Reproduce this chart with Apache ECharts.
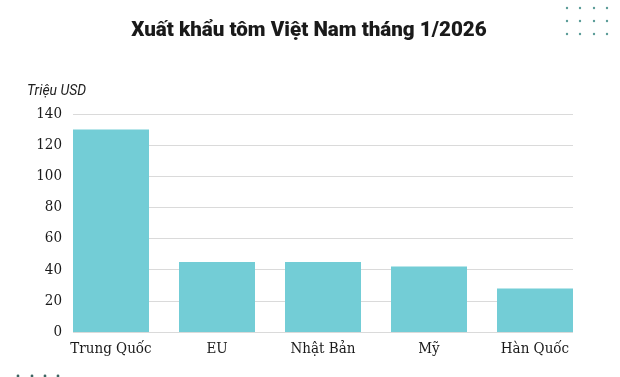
<!DOCTYPE html>
<html><head><meta charset="utf-8">
<script src="https://cdn.jsdelivr.net/npm/echarts@6/dist/echarts.min.js"></script>
<style>html,body{margin:0;padding:0;background:#fff}#c{width:620px;height:377px}</style>
</head><body><div id="c"></div>
<script>
const categories = ['Trung Quốc', 'EU', 'Nhật Bản', 'Mỹ', 'Hàn Quốc'];
const values = [130, 45, 45, 42, 28];
const yTicks = [0, 20, 40, 60, 80, 100, 120, 140];
const titleText = 'Xuất khẩu tôm Việt Nam tháng 1/2026';
const unitText = 'Triệu USD';

const chart = echarts.init(document.getElementById('c'), null, {renderer: 'canvas'});
const dots = [];
[567, 580, 594, 607].forEach(x => [8, 21, 34].forEach(y => dots.push({type: 'circle', shape: {cx: x, cy: y, r: 1.2}, style: {fill: '#5b9c98'}})));
[18, 32, 45, 58].forEach(x => dots.push({type: 'circle', shape: {cx: x, cy: 376, r: 1.4}, style: {fill: '#3d6663'}}));

const serif = '"DejaVu Serif Condensed", "DejaVu Serif", serif';
chart.setOption({
  animation: false,
  backgroundColor: '#fff',
  graphic: [
    {type: 'text', x: 309, y: 31, scaleX: 0.98, style: {text: titleText, font: '900 21px Roboto', fill: '#1a1a1a', align: 'center', verticalAlign: 'middle'}},
    {type: 'text', x: 27, y: 91, scaleX: 0.93, style: {text: unitText, font: 'italic 15px Roboto', fill: '#222', align: 'left', verticalAlign: 'middle'}},
    ...dots
  ],
  grid: [
    {left: 73, right: 47, top: 114, bottom: 45},
    {left: 58, right: 32, top: 114, bottom: 45}
  ],
  xAxis: [
    {gridIndex: 0, type: 'value', show: false, min: 0, max: 1},
    {gridIndex: 1, type: 'category', data: categories,
     axisLine: {show: false}, axisTick: {show: false},
     axisLabel: {margin: 10, fontSize: 15, fontFamily: serif, color: '#1a1a1a'}}
  ],
  yAxis: [
    {gridIndex: 0, type: 'value', min: yTicks[0], max: yTicks[yTicks.length - 1], interval: 20,
     axisLine: {show: false}, axisTick: {show: false},
     axisLabel: {margin: 11, fontSize: 15, fontFamily: serif, color: '#1a1a1a'},
     splitLine: {lineStyle: {color: '#dadada', width: 1}}},
    {gridIndex: 1, type: 'value', min: yTicks[0], max: yTicks[yTicks.length - 1], interval: 20,
     show: false, splitLine: {show: false}}
  ],
  series: [{
    type: 'bar', xAxisIndex: 1, yAxisIndex: 1, data: values, barWidth: 76,
    itemStyle: {color: '#73cdd6'}
  }]
});
</script></body></html>
